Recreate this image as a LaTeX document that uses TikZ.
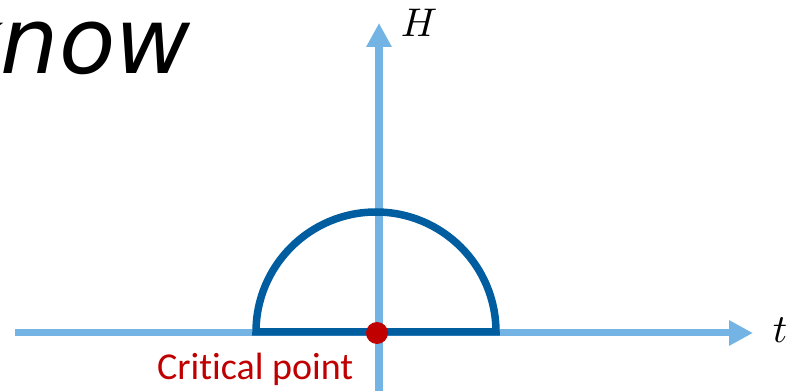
\documentclass[tikz,border=0pt]{standalone}
\usepackage{fontspec}
\newfontfamily\knowfont{DejaVu Sans}
\newfontfamily\labelfont{Carlito}[Ligatures=NoCommon]
\usetikzlibrary{arrows.meta}
\definecolor{axisblue}{HTML}{74B4E4}
\definecolor{arcblue}{HTML}{005DA0}
\definecolor{critred}{HTML}{C00000}
\tikzset{
  axisline/.style={draw=axisblue, -{Triangle[length=24pt,width=24pt]}},
  arcline/.style={draw=arcblue, line width=7.5pt},
  mathlabel/.style={inner sep=0pt, font=\fontsize{10}{12}\selectfont, scale=4},
  critlabel/.style={inner sep=0pt, text=critred, font=\labelfont\fontsize{38}{46}\selectfont},
  dotstyle/.style={circle, fill=critred, inner sep=0pt, minimum size=22pt}
}
\begin{document}
\begin{tikzpicture}[x=1pt,y=1pt]
  \useasboundingbox (0,0) rectangle (788,391);
  % title fragment
  \node[inner sep=0pt, anchor=base east, font=\knowfont\itshape\fontsize{92}{110}\selectfont] (know) at (191,317) {know};
  % axes
  \coordinate (vbot) at (379,-2);
  \coordinate (vtop) at (379,368);
  \coordinate (hleft) at (15,58);
  \coordinate (hright) at (753,58);
  \draw[axisline, line width=8pt] (vbot) -- (vtop);
  \draw[axisline, line width=7pt] (hleft) -- (hright);
  % semicircle
  \draw[arcline] (256,59) arc (180:0:120) -- cycle;
  % critical point
  \node[dotstyle] (cp) at (377,58) {};
  % labels
  \node[mathlabel, anchor=base west] (H) at (400,354) {$H$};
  \node[mathlabel, anchor=base west] (t) at (772,48) {$t$};
  \node[critlabel, anchor=base west] (crit) at (157,11) {Critical point};
\end{tikzpicture}
\end{document}
